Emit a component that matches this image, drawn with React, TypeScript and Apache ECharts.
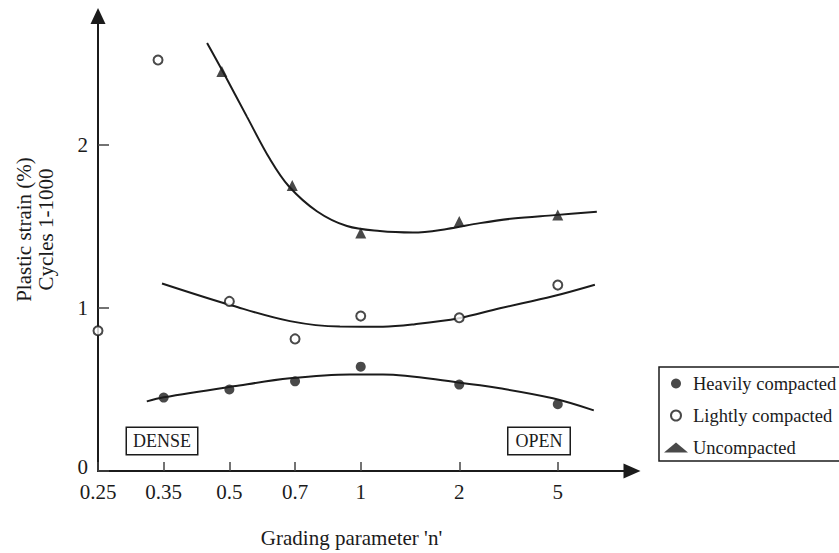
import React, { useEffect, useRef } from 'react';
import * as echarts from 'echarts';

// Grading parameter ticks and where each one sits along the horizontal axis
const gradingTicks = [0.25, 0.35, 0.5, 0.7, 1, 2, 5];
const tickSlots = [0, 1, 2, 3, 4, 5.5, 7];
const strainTicks = [0, 1, 2];

// Measured plastic strain (%) over cycles 1-1000
const heavyN = [0.35, 0.5, 0.7, 1, 2, 5];
const heavyStrain = [0.45, 0.5, 0.55, 0.64, 0.53, 0.41];
const lightN = [0.25, 0.34, 0.5, 0.7, 1, 2, 5];
const lightStrain = [0.86, 2.52, 1.04, 0.81, 0.95, 0.94, 1.14];
const uncompN = [0.48, 0.69, 1, 2, 5];
const uncompStrain = [2.45, 1.75, 1.46, 1.53, 1.57];

// Hand-fitted trend curves
const heavyFitN = [0.321, 0.35, 0.51, 0.682, 0.943, 1.169, 1.981, 2.919, 4.776, 6.99];
const heavyFitStrain = [0.427, 0.452, 0.519, 0.568, 0.592, 0.592, 0.543, 0.507, 0.446, 0.372];
const lightFitN = [0.347, 0.509, 0.682, 0.893, 1.169, 1.464, 1.994, 2.919, 4.776, 7.06];
const lightFitStrain = [1.15, 1.013, 0.919, 0.886, 0.885, 0.9, 0.937, 0.998, 1.071, 1.142];
const uncompFitN = [0.443, 0.483, 0.547, 0.616, 0.678, 0.788, 0.928, 1.144, 1.444, 1.834, 2.423, 3.294, 4.867, 7.19];
const uncompFitStrain = [2.625, 2.448, 2.173, 1.911, 1.746, 1.593, 1.502, 1.471, 1.462, 1.484, 1.52, 1.548, 1.569, 1.59];

const FONT = '"Liberation Serif", "Times New Roman", serif';
const INK = '#1b1b1b';

// Piecewise logarithmic placement of n between the labelled ticks
function toSlot(n: number): number {
  const last = gradingTicks.length - 1;
  let i = 0;
  while (i < last - 1 && n > gradingTicks[i + 1]) i++;
  const a = gradingTicks[i];
  const b = gradingTicks[i + 1];
  const t = (Math.log(n) - Math.log(a)) / (Math.log(b) - Math.log(a));
  return tickSlots[i] + t * (tickSlots[i + 1] - tickSlots[i]);
}

function pairs(xs: number[], ys: number[]): number[][] {
  return xs.map((n, i) => [toSlot(n), ys[i]]);
}

function slotLabel(v: number): string {
  const i = tickSlots.findIndex((s) => Math.abs(s - v) < 1e-6);
  return i >= 0 ? String(gradingTicks[i]) : '';
}

export default function App() {
  const ref = useRef<HTMLDivElement>(null);

  useEffect(() => {
    if (!ref.current) return;
    const chart = echarts.init(ref.current, undefined, { renderer: 'svg' });

    const fitLine = (name: string, data: number[][]) => ({
      name,
      type: 'line',
      data,
      smooth: 0.35,
      showSymbol: false,
      symbol: 'none',
      silent: true,
      z: 2,
      lineStyle: { color: INK, width: 2 },
    });

    chart.setOption({
      animation: false,
      backgroundColor: '#ffffff',
      textStyle: { fontFamily: FONT, color: INK },
      grid: { left: 98, right: 207, top: 16, bottom: 80, containLabel: false },
      xAxis: {
        type: 'value',
        min: 0,
        max: 8.13,
        name: "Grading parameter 'n'",
        nameLocation: 'middle',
        nameGap: 56,
        nameTextStyle: { fontFamily: FONT, fontSize: 21, color: INK, padding: [0, 27, 0, 0] },
        axisLine: {
          show: true,
          onZero: false,
          symbol: ['none', 'triangle'],
          symbolSize: [15, 17],
          lineStyle: { color: INK, width: 2 },
        },
        axisTick: {
          show: true,
          inside: true,
          length: 9,
          customValues: tickSlots,
          lineStyle: { color: '#444', width: 1.5 },
        },
        axisLabel: {
          customValues: tickSlots,
          formatter: (v: number) => slotLabel(v),
          fontFamily: FONT,
          fontSize: 21,
          lineHeight: 21,
          color: INK,
          margin: 10,
        },
        splitLine: { show: false },
      },
      yAxis: {
        type: 'value',
        min: 0,
        max: 2.79,
        name: 'Plastic strain (%)\nCycles 1-1000',
        nameLocation: 'middle',
        nameGap: 41,
        nameTextStyle: {
          fontFamily: FONT,
          fontSize: 21,
          lineHeight: 22,
          color: INK,
          align: 'center',
          padding: [0, 0, 0, 28],
        },
        axisLine: {
          show: true,
          onZero: false,
          symbol: ['none', 'triangle'],
          symbolSize: [15, 16],
          lineStyle: { color: INK, width: 2 },
        },
        axisTick: {
          show: true,
          inside: true,
          length: 11,
          customValues: strainTicks,
          lineStyle: { color: '#444', width: 1.5 },
        },
        axisLabel: {
          customValues: strainTicks,
          // the origin label sits a little higher, clear of the first n label
          formatter: (v: number) => (v === 0 ? '{origin|0}' : String(v)),
          rich: {
            origin: { fontFamily: FONT, fontSize: 21, lineHeight: 21, color: INK, padding: [0, 0, 8, 0] },
          },
          fontFamily: FONT,
          fontSize: 21,
          lineHeight: 21,
          color: INK,
          margin: 10,
        },
        splitLine: { show: false },
      },
      legend: {
        orient: 'vertical',
        left: 659,
        top: 367,
        data: ['Heavily compacted', 'Lightly compacted', 'Uncompacted'],
        itemWidth: 24,
        itemHeight: 10,
        itemGap: 13,
        padding: [7, 12, 4, 5],
        borderColor: INK,
        borderWidth: 1.5,
        selectedMode: false,
        textStyle: { fontFamily: FONT, fontSize: 18.5, color: INK },
      },
      graphic: [
        {
          type: 'text',
          x: 162,
          y: 441,
          style: {
            text: 'DENSE',
            font: `18px ${FONT}`,
            fill: INK,
            align: 'center',
            verticalAlign: 'middle',
            backgroundColor: '#fff',
            borderColor: INK,
            borderWidth: 1.5,
            padding: [4, 6, 4, 6],
          },
        },
        {
          type: 'text',
          x: 539,
          y: 441,
          style: {
            text: 'OPEN',
            font: `18px ${FONT}`,
            fill: INK,
            align: 'center',
            verticalAlign: 'middle',
            backgroundColor: '#fff',
            borderColor: INK,
            borderWidth: 1.5,
            padding: [4, 7, 4, 7],
          },
        },
      ],
      series: [
        fitLine('Heavily compacted trend', pairs(heavyFitN, heavyFitStrain)),
        fitLine('Lightly compacted trend', pairs(lightFitN, lightFitStrain)),
        fitLine('Uncompacted trend', pairs(uncompFitN, uncompFitStrain)),
        {
          name: 'Heavily compacted',
          type: 'scatter',
          data: pairs(heavyN, heavyStrain),
          symbol: 'circle',
          symbolSize: 10,
          z: 3,
          itemStyle: { color: INK },
        },
        {
          name: 'Lightly compacted',
          type: 'scatter',
          data: pairs(lightN, lightStrain),
          symbol: 'emptyCircle',
          symbolSize: 9,
          z: 3,
          itemStyle: { color: INK, borderColor: INK, borderWidth: 2 },
        },
        {
          name: 'Uncompacted',
          type: 'scatter',
          data: pairs(uncompN, uncompStrain),
          symbol: 'triangle',
          symbolSize: 11,
          z: 3,
          itemStyle: { color: INK },
        },
      ],
    });

    return () => chart.dispose();
  }, []);

  return (
    <div
      ref={ref}
      style={{ position: 'absolute', left: 0, top: 0, width: 839, height: 553, background: '#fff' }}
    />
  );
}
